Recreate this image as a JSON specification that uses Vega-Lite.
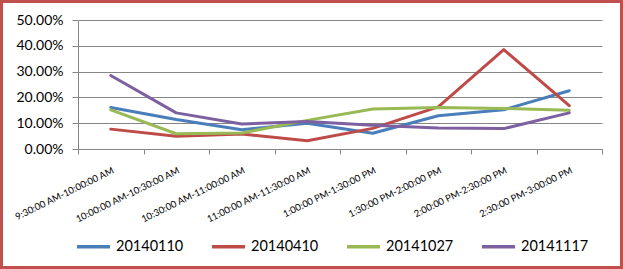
{
  "$schema": "https://vega.github.io/schema/vega-lite/v6.json",
  "width": 623,
  "height": 269,
  "autosize": {"type": "none"},
  "padding": 0,
  "background": "white",
  "config": {
    "view": {"stroke": "#C0504D", "strokeWidth": 6, "fill": "white"},
    "font": "Lato"
  },
  "data": {
    "values": [
      {"time": "9:30:00 AM-10:00:00 AM", "series": "20140110", "value": 0.161},
      {"time": "10:00:00 AM-10:30:00 AM", "series": "20140110", "value": 0.114},
      {"time": "10:30:00 AM-11:00:00 AM", "series": "20140110", "value": 0.075},
      {"time": "11:00:00 AM-11:30:00 AM", "series": "20140110", "value": 0.100},
      {"time": "1:00:00 PM-1:30:00 PM", "series": "20140110", "value": 0.061},
      {"time": "1:30:00 PM-2:00:00 PM", "series": "20140110", "value": 0.129},
      {"time": "2:00:00 PM-2:30:00 PM", "series": "20140110", "value": 0.152},
      {"time": "2:30:00 PM-3:00:00 PM", "series": "20140110", "value": 0.226},
      {"time": "9:30:00 AM-10:00:00 AM", "series": "20140410", "value": 0.077},
      {"time": "10:00:00 AM-10:30:00 AM", "series": "20140410", "value": 0.049},
      {"time": "10:30:00 AM-11:00:00 AM", "series": "20140410", "value": 0.058},
      {"time": "11:00:00 AM-11:30:00 AM", "series": "20140410", "value": 0.032},
      {"time": "1:00:00 PM-1:30:00 PM", "series": "20140410", "value": 0.080},
      {"time": "1:30:00 PM-2:00:00 PM", "series": "20140410", "value": 0.163},
      {"time": "2:00:00 PM-2:30:00 PM", "series": "20140410", "value": 0.385},
      {"time": "2:30:00 PM-3:00:00 PM", "series": "20140410", "value": 0.168},
      {"time": "9:30:00 AM-10:00:00 AM", "series": "20141027", "value": 0.152},
      {"time": "10:00:00 AM-10:30:00 AM", "series": "20141027", "value": 0.059},
      {"time": "10:30:00 AM-11:00:00 AM", "series": "20141027", "value": 0.062},
      {"time": "11:00:00 AM-11:30:00 AM", "series": "20141027", "value": 0.111},
      {"time": "1:00:00 PM-1:30:00 PM", "series": "20141027", "value": 0.155},
      {"time": "1:30:00 PM-2:00:00 PM", "series": "20141027", "value": 0.161},
      {"time": "2:00:00 PM-2:30:00 PM", "series": "20141027", "value": 0.157},
      {"time": "2:30:00 PM-3:00:00 PM", "series": "20141027", "value": 0.150},
      {"time": "9:30:00 AM-10:00:00 AM", "series": "20141117", "value": 0.285},
      {"time": "10:00:00 AM-10:30:00 AM", "series": "20141117", "value": 0.140},
      {"time": "10:30:00 AM-11:00:00 AM", "series": "20141117", "value": 0.097},
      {"time": "11:00:00 AM-11:30:00 AM", "series": "20141117", "value": 0.107},
      {"time": "1:00:00 PM-1:30:00 PM", "series": "20141117", "value": 0.092},
      {"time": "1:30:00 PM-2:00:00 PM", "series": "20141117", "value": 0.081},
      {"time": "2:00:00 PM-2:30:00 PM", "series": "20141117", "value": 0.079},
      {"time": "2:30:00 PM-3:00:00 PM", "series": "20141117", "value": 0.140}
    ]
  },
  "mark": {"type": "line", "strokeWidth": 3, "strokeJoin": "round", "strokeCap": "round"},
  "encoding": {
    "x": {
      "field": "time",
      "type": "nominal",
      "sort": null,
      "bandPosition": 0.5,
      "scale": {"type": "band", "paddingInner": 0, "paddingOuter": 0, "range": [78, 602]},
      "axis": {
        "title": null,
        "offset": -120,
        "labelAngle": -26,
        "labelAlign": "right",
        "labelBaseline": "top",
        "labelFont": "Lato",
        "labelFontSize": 9.5,
        "labelColor": "#000000",
        "labelPadding": 11,
        "labelOverlap": false,
        "tickBand": "extent",
        "tickSize": 5,
        "tickColor": "#868686",
        "domainColor": "#868686",
        "grid": false
      }
    },
    "y": {
      "field": "value",
      "type": "quantitative",
      "scale": {"domain": [0, 0.5], "nice": false, "zero": true, "range": [149, 20]},
      "axis": {
        "title": null,
        "offset": -78,
        "values": [0, 0.1, 0.2, 0.3, 0.4, 0.5],
        "format": ".2%",
        "labelFont": "Lato",
        "labelFontSize": 14,
        "labelColor": "#000000",
        "labelPadding": 9,
        "tickSize": 6,
        "tickColor": "#868686",
        "domainColor": "#868686",
        "grid": true,
        "gridColor": "#868686",
        "gridWidth": 1
      }
    },
    "color": {
      "field": "series",
      "type": "nominal",
      "scale": {
        "domain": ["20140110", "20140410", "20141027", "20141117"],
        "range": ["#4A7EBB", "#BE4B48", "#98B954", "#7D60A0"]
      },
      "legend": {
        "title": null,
        "orient": "none",
        "direction": "horizontal",
        "legendX": 75,
        "legendY": 228,
        "symbolType": "stroke",
        "symbolSize": 1089,
        "symbolStrokeWidth": 3.5,
        "labelFont": "Lato",
        "labelFontSize": 14.5,
        "labelColor": "#000000",
        "labelOffset": 4,
        "columnPadding": 21,
        "padding": 0
      }
    }
  }
}
